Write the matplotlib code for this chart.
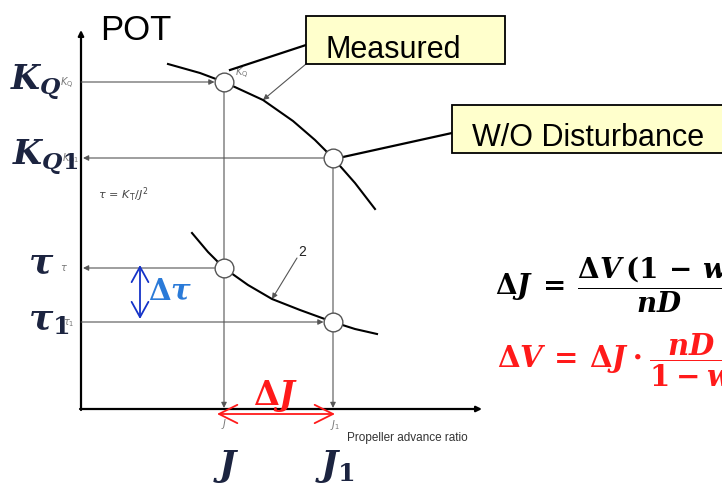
import matplotlib
matplotlib.use('Agg')
import matplotlib.pyplot as plt
from matplotlib.patches import Rectangle

plt.rcParams['mathtext.fontset'] = 'custom'
plt.rcParams['mathtext.it'] = 'DejaVu Serif:italic:bold'
plt.rcParams['mathtext.rm'] = 'DejaVu Serif:bold'
plt.rcParams['mathtext.bf'] = 'DejaVu Serif:bold'
plt.rcParams['mathtext.sf'] = 'DejaVu Sans'

# ---- diagram data (units: reference-diagram coordinates) ----
J_pos = [224, 333]                 # J, J1 on the advance-ratio axis
KQ_levels = [82, 158]              # KQ, KQ1
tau_levels = [268, 322]            # tau, tau1
kq_curve_x = [168, 200, 224, 263, 293, 315, 333, 355, 375]
kq_curve_y = [64, 73, 82, 100, 121, 140, 158, 183, 209]
tau_curve_x = [192, 208, 224, 248, 272, 300, 333, 355, 377]
tau_curve_y = [233, 252, 268, 285, 299, 310, 322, 329, 334]
axis_origin = (81, 409)
axis_ends = (482, 30)

GRAY = '#555555'
NAVY = '#1c2440'

fig = plt.figure(figsize=(7.22, 4.84), dpi=100)
ax = fig.add_axes([0, 0, 1, 1])
ax.set_xlim(0, 722)
ax.set_ylim(484, 0)
ax.axis('off')

def arrow(xy, xytext, color=GRAY, lw=0.8, ms=8, style='-|>', z=3):
    ax.annotate('', xy=xy, xytext=xytext,
                arrowprops=dict(arrowstyle=style, lw=lw, color=color,
                                mutation_scale=ms, shrinkA=0, shrinkB=0),
                zorder=z)

# axes
ox, oy = axis_origin
arrow((ox, axis_ends[1]), (ox, oy + 1), color='black', lw=1.6, ms=8)
arrow((axis_ends[0], oy), (ox - 1, oy), color='black', lw=1.6, ms=8)

r = 9.5
# guide lines
arrow((J_pos[0] - r, KQ_levels[0]), (ox, KQ_levels[0]))
arrow((ox + 2, KQ_levels[1]), (J_pos[1] - r, KQ_levels[1]))
arrow((ox + 2, tau_levels[0]), (J_pos[0] - r, tau_levels[0]))
arrow((J_pos[1] - r, tau_levels[1]), (ox, tau_levels[1]))
arrow((J_pos[0], oy - 1), (J_pos[0], KQ_levels[0] + r))
arrow((J_pos[1], oy - 1), (J_pos[1], KQ_levels[1] + r))

# curves
ax.plot(kq_curve_x, kq_curve_y, color='black', lw=1.5, zorder=4)
ax.plot(tau_curve_x, tau_curve_y, color='black', lw=1.5, zorder=4)
ax.plot(J_pos, KQ_levels, 'o', ms=13.5, mfc='white', mec=GRAY, mew=1, zorder=6)
ax.plot(J_pos, tau_levels, 'o', ms=13.5, mfc='white', mec=GRAY, mew=1, zorder=6)

# title
ax.text(100, 40, 'POT', fontsize=25, family='Liberation Sans', color='black')

# callout boxes
ax.add_patch(Rectangle((306, 16), 199, 48, fc='#ffffcc', ec='black', lw=1.3, zorder=7))
ax.text(325, 58, 'Measured', fontsize=22, family='Liberation Sans', zorder=8)
ax.plot([306, 230], [45, 70], color='black', lw=1.6, zorder=5)
arrow((263, 100), (306, 64), lw=0.8)
ax.add_patch(Rectangle((452, 105), 290, 48, fc='#ffffcc', ec='black', lw=1.3, zorder=7))
ax.text(472, 146, 'W/O Disturbance', fontsize=22, family='Liberation Sans', zorder=8)
ax.plot([452, 343], [133, 157], color='black', lw=1.6, zorder=5)

# curve label "2"
ax.text(302, 252, '2', fontsize=10, family='Liberation Sans', ha='center', va='center', color='#222222')
arrow((272, 299), (297, 258), lw=0.8)

# small gray labels
sm = dict(fontsize=7, color='#777777', math_fontfamily='dejavusans')
ax.text(60, 86, r'$K_{\rm Q}$', **sm)
ax.text(235, 76, r'$K_{\rm Q}$', **sm)
ax.text(62, 162, r'$K_{\rm Q1}$', **sm)
ax.text(60, 271, r'$\tau$', **sm)
ax.text(63, 325, r'$\tau_1$', **sm)
ax.text(221, 427, r'$J$', **sm)
ax.text(330, 428, r'$J_1$', **sm)
ax.text(98, 199, r'$\tau\,=\,K_{\rm T}/J^2$', fontsize=8, color='#444444', math_fontfamily='dejavusans')
ax.text(347, 441, 'Propeller advance ratio', fontsize=8.5, family='Liberation Sans', color='#333333')

# big labels
big = dict(color=NAVY, math_fontfamily='custom')
ax.text(10, 90, r'$K_Q$', fontsize=24, **big)
ax.text(12, 165, r'$K_{Q1}$', fontsize=24, **big)
ax.text(28, 273, r'$\tau$', fontsize=26, **big)
ax.text(28, 330, r'$\tau_1$', fontsize=26, **big)
ax.text(226, 476, r'$J$', fontsize=26, ha='center', **big)
ax.text(335, 476, r'$J_1$', fontsize=26, ha='center', **big)

# delta arrows
BLUE = '#1533c8'
RED = '#ff1a1a'
ax.annotate('', xy=(140, 319), xytext=(140, 265),
            arrowprops=dict(arrowstyle='<->,head_length=1.0,head_width=0.55', lw=1.3,
                            color=BLUE, mutation_scale=11, shrinkA=0, shrinkB=0))
ax.text(148, 300, r'$\Delta\tau$', fontsize=21, color='#2a7ad8', math_fontfamily='custom')
ax.annotate('', xy=(335, 414), xytext=(217, 414),
            arrowprops=dict(arrowstyle='<->,head_length=1.1,head_width=0.55', lw=1.3,
                            color=RED, mutation_scale=12, shrinkA=0, shrinkB=0))
ax.text(276, 405, r'$\Delta J$', fontsize=24, color=RED, ha='center', math_fontfamily='custom')

# equations
ax.text(495, 285, r'$\Delta J\:=\:\dfrac{\Delta V\,(1\,-\,w)}{nD}$', fontsize=20,
        color='black', va='center', math_fontfamily='custom')
ax.text(497, 360, r'$\Delta V\,=\,\Delta J\cdot\dfrac{nD}{1-w}$', fontsize=21,
        color=RED, va='center', math_fontfamily='custom')

fig.savefig('out.png', dpi=100)
